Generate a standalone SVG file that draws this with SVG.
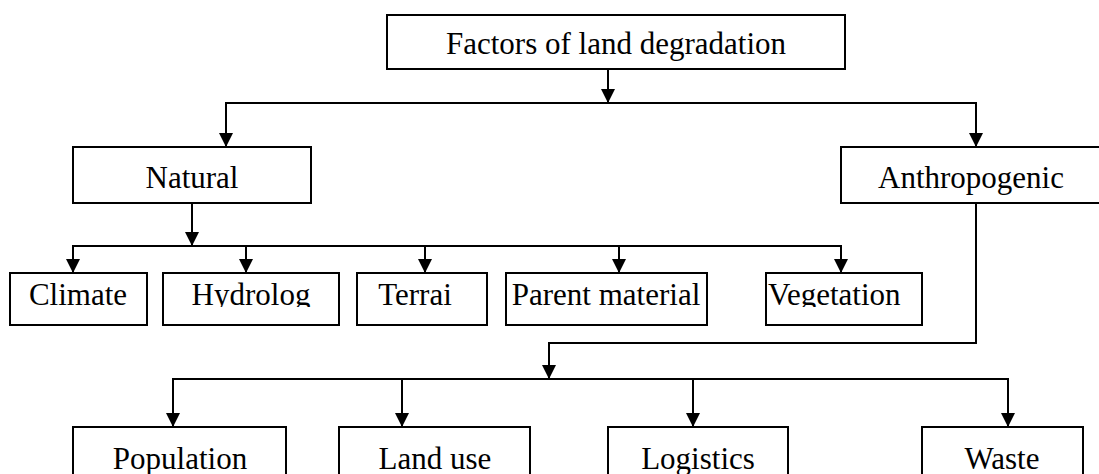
<svg xmlns="http://www.w3.org/2000/svg" width="1099" height="474" viewBox="0 0 1099 474">
<style>
.box{fill:#fff;stroke:#000;stroke-width:2}
.t{font-family:"Liberation Serif","Times New Roman",serif;font-size:31px;fill:#000;text-anchor:middle}
.c{fill:none;stroke:#000;stroke-width:2}
</style>
<defs>
<marker id="ah" markerWidth="14" markerHeight="14" refX="14" refY="7" orient="auto" markerUnits="userSpaceOnUse">
<path d="M0,0 L14,7 L0,14 Z" fill="#000"/>
</marker>
<clipPath id="row2"><rect x="0" y="270" width="1099" height="37"/></clipPath>
</defs>
<g id="connectors">
<path class="c" d="M608,69 V103" marker-end="url(#ah)"/>
<path class="c" d="M226,147 V103 H976 V147" />
<path class="c" d="M226,104 V147" marker-end="url(#ah)"/>
<path class="c" d="M976,104 V147" marker-end="url(#ah)"/>
<path class="c" d="M192,203 V246" marker-end="url(#ah)"/>
<path class="c" d="M73,273 V246 H841 V273"/>
<path class="c" d="M73,247 V273" marker-end="url(#ah)"/>
<path class="c" d="M246,247 V273" marker-end="url(#ah)"/>
<path class="c" d="M425,247 V273" marker-end="url(#ah)"/>
<path class="c" d="M619,247 V273" marker-end="url(#ah)"/>
<path class="c" d="M841,247 V273" marker-end="url(#ah)"/>
<path class="c" d="M976,203 V343 H549 V379" marker-end="url(#ah)"/>
<path class="c" d="M173,427 V379 H1008 V427"/>
<path class="c" d="M173,380 V427" marker-end="url(#ah)"/>
<path class="c" d="M402,380 V427" marker-end="url(#ah)"/>
<path class="c" d="M693,380 V427" marker-end="url(#ah)"/>
<path class="c" d="M1008,380 V427" marker-end="url(#ah)"/>
</g>
<g id="n-factors"><rect class="box" x="387" y="15" width="458" height="54"/><text class="t" x="616" y="54">Factors of land degradation</text></g>
<g id="n-natural"><rect class="box" x="73" y="147" width="238" height="56"/><text class="t" x="192" y="188">Natural</text></g>
<g id="n-anthropogenic"><rect class="box" x="841" y="147" width="262" height="56"/><text class="t" x="971" y="188">Anthropogenic</text></g>
<g id="n-climate"><rect class="box" x="10" y="273" width="137" height="52"/><text class="t" x="78" y="305" clip-path="url(#row2)">Climate</text></g>
<g id="n-hydrolog"><rect class="box" x="163" y="273" width="176" height="52"/><text class="t" x="251" y="305" clip-path="url(#row2)">Hydrolog</text></g>
<g id="n-terrai"><rect class="box" x="357" y="273" width="130" height="52"/><text class="t" x="415" y="305" clip-path="url(#row2)">Terrai</text></g>
<g id="n-parent"><rect class="box" x="506" y="273" width="201" height="52"/><text class="t" x="606" y="305" clip-path="url(#row2)">Parent material</text></g>
<g id="n-vegetation"><rect class="box" x="766" y="273" width="156" height="52"/><text class="t" x="768" y="305" style="text-anchor:start" clip-path="url(#row2)">Vegetation</text></g>
<g id="n-population"><rect class="box" x="73" y="427" width="213" height="60"/><text class="t" x="180" y="469">Population</text></g>
<g id="n-landuse"><rect class="box" x="339" y="427" width="191" height="60"/><text class="t" x="435" y="469">Land use</text></g>
<g id="n-logistics"><rect class="box" x="608" y="427" width="180" height="60"/><text class="t" x="698" y="469">Logistics</text></g>
<g id="n-waste"><rect class="box" x="922" y="427" width="161" height="60"/><text class="t" x="1002" y="469">Waste</text></g>
</svg>
